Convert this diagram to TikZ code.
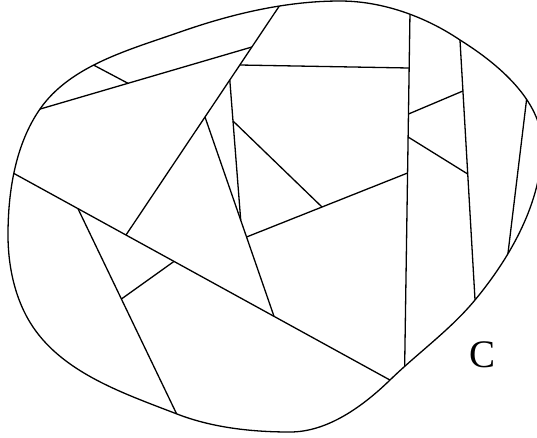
\documentclass[tikz,border=0pt]{standalone}
\usepackage{fontspec}
\setmainfont{Liberation Serif}

\begin{document}
\begin{tikzpicture}[x=1pt,y=-1pt,line width=1.3pt,line join=round]
        \useasboundingbox (0,0) rectangle (537,437);
        % outline of the region
        \path[save path=\rim] (8,235)
          .. controls (8,191.7) and (15.3,144.5) .. (40,109)
          .. controls (70.4,65.3) and (129.9,49.6) .. (180,32)
          .. controls (231,14.1) and (285.7,1) .. (340,1)
          .. controls (382.1,1) and (425.1,16.4) .. (460,40)
          .. controls (497.7,63.5) and (542,100.6) .. (542,145)
          .. controls (542,201.3) and (511,256.6) .. (475,300)
          .. controls (450.1,330) and (418,352.8) .. (390,380)
          .. controls (362.9,406.3) and (327.6,432) .. (290,432)
          .. controls (251.9,432) and (212.4,427.7) .. (177,414)
          .. controls (124.8,393.8) and (64.4,373.6) .. (33,327)
          .. controls (15.2,300.6) and (8,266.8) .. (8,235) -- cycle;
        \draw[use path=\rim];
        % long cut from left to lower right
        \coordinate (L0) at (4,168);
        \coordinate (L1) at (399,385);
        \coordinate (Q) at (126,235);
        \coordinate (F0) at (78,208.7);
        \coordinate (G1) at (174,261.4);
        \coordinate (B1) at (274,316.3);
        % diagonal from the top
        \coordinate (D0) at (284,-1);
        \coordinate (E1) at (251.9,47);
        \coordinate (H0) at (239.8,65);
        \coordinate (A0) at (229.8,80);
        \coordinate (B0) at (205,117);
        % upper left strip
        \coordinate (U0) at (30,112);
        \coordinate (U1) at (128,83.3);
        \coordinate (U2) at (84,60);
        % first vertical
        \coordinate (V0) at (410.1,5);
        \coordinate (V1) at (404.5,377);
        \coordinate (H1) at (409.2,68);
        \coordinate (I0) at (408.5,114);
        \coordinate (J0) at (408.1,137);
        \coordinate (C1) at (407.6,173);
        % middle pieces
        \coordinate (A1) at (240.7,220);
        \coordinate (C0) at (246.5,237);
        \coordinate (K0) at (233,121);
        \coordinate (K1) at (322,207);
        % lower left
        \coordinate (F1) at (181,423);
        \coordinate (G0) at (121.4,299);
        % second vertical and right strip
        \coordinate (W0) at (459.4,30);
        \coordinate (W1) at (475.6,310);
        \coordinate (I1) at (462.9,91);
        \coordinate (J1) at (467.7,174);
        \coordinate (R0) at (528.2,86);
        \coordinate (R1) at (506.8,263);
        \begin{scope}
          \clip[use path=\rim];
          \draw (L0) -- (L1);
          \draw (D0) -- (Q);
          \draw (U0) -- (E1);
          \draw (U2) -- (U1);
          \draw (H0) -- (H1);
          \draw (A0) -- (A1);
          \draw (B0) -- (B1);
          \draw (K0) -- (K1);
          \draw (C0) -- (C1);
          \draw (F0) -- (F1);
          \draw (G0) -- (G1);
          \draw (V0) -- (V1);
          \draw (W0) -- (W1);
          \draw (I0) -- (I1);
          \draw (J0) -- (J1);
          \draw (R0) -- (R1);
        \end{scope}
        \node (lab) at (482,355) {\fontsize{39}{42}\selectfont C};
    \end{tikzpicture}
\end{document}
